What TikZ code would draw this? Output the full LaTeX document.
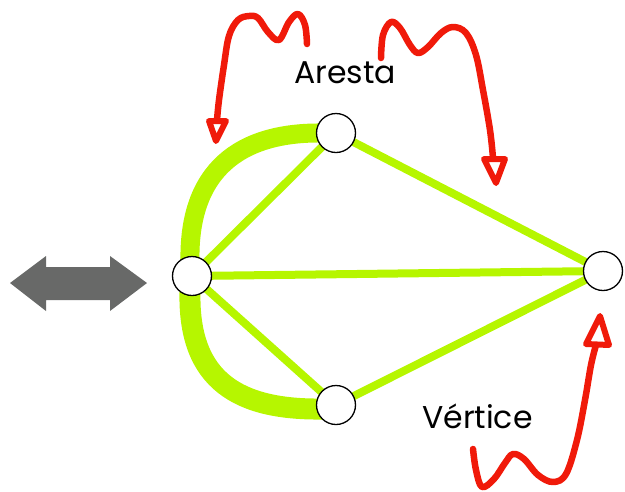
\documentclass[tikz,border=0pt]{standalone}
\usepackage{fontspec}
\setmainfont{Poppins}
\definecolor{edgegreen}{RGB}{182,246,0}
\definecolor{pointred}{RGB}{240,26,10}
\definecolor{arrowgray}{RGB}{104,105,104}
\begin{document}
\begin{tikzpicture}[x=1pt,y=-1pt,
  vertex/.style={circle,draw=black,line width=1.3pt,fill=white,minimum size=39pt,inner sep=0pt},
  edge/.style={draw=edgegreen,line width=8pt},
  bigedge/.style={draw=edgegreen,line width=19pt},
  squiggle/.style={draw=pointred,line width=6.5pt,line cap=round,line join=round},
  tiphead/.style={draw=pointred,fill=white,line width=6pt,line join=round},
  label/.style={font=\fontsize{31.5}{31.5}\selectfont,anchor=base west,inner sep=0pt}]
\useasboundingbox (0,0) rectangle (625,491);

% vertex positions
\coordinate (pl) at (192,276);
\coordinate (pt) at (336,133);
\coordinate (pb) at (336,405);
\coordinate (pr) at (603,271);

% thick curved edges
\draw[bigedge] (190,262) .. controls (188,170) and (240,132) .. (322,133);
\draw[bigedge,line width=21pt] (190,292) .. controls (188,382) and (240,410) .. (322,409);

% straight edges
\draw[edge] (pl) -- (pt);
\draw[edge] (pl) -- (pr);
\draw[edge] (pl) -- (pb);
\draw[edge] (pt) -- (pr);
\draw[edge] (pb) -- (pr);

% vertices
\node[vertex] (vl) at (pl) {};
\node[vertex] (vt) at (pt) {};
\node[vertex] (vb) at (pb) {};
\node[vertex] (vr) at (pr) {};

% grey double arrow
\fill[arrowgray] (10,283) -- (46,256) -- (46,267) -- (110,267) -- (110,256) -- (147,283)
  -- (110,311) -- (110,300) -- (46,300) -- (46,311) -- cycle;

% labels
\node[label] (aresta) at (294,83) {Aresta};
\node[label] (vertice) at (422,428) {Vértice};

% red pointers
\draw[squiggle] plot[smooth,tension=0.6] coordinates {(307,44) (305,25) (298,14) (289,22) (279,40) (268,32) (258,18) (249,16) (238,20) (229,36) (224,65) (219,100) (217,120)};
\draw[tiphead] (209,121) -- (226,121) -- (216,141) -- cycle;

\draw[squiggle] plot[smooth,tension=0.6] coordinates {(381,58) (383,35) (391,22) (400,28) (410,45) (418,53) (428,47) (441,33) (453,27) (466,33) (476,55) (483,90) (490,130) (493,158)};
\draw[tiphead] (484,159) -- (505,159) -- (496,183) -- cycle;

\draw[squiggle] plot[smooth,tension=0.6] coordinates {(473,449) (476,470) (482,487) (494,479) (505,463) (513,454) (524,459) (538,475) (553,482) (566,474) (577,440) (585,400) (591,365) (596,345)};
\draw[tiphead] (586,344) -- (609,345) -- (600,316) -- cycle;
\end{tikzpicture}
\end{document}
